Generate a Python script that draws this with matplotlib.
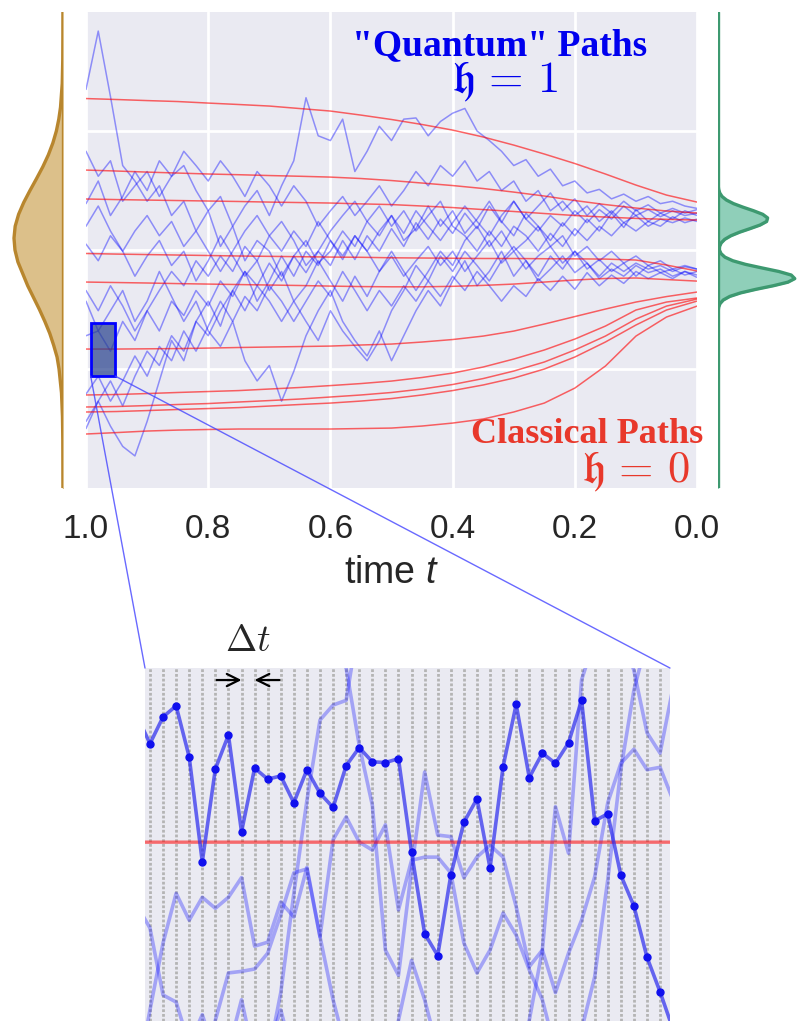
import numpy as np
import matplotlib.pyplot as plt
import seaborn as sns
from matplotlib.patches import Rectangle, ConnectionPatch

sns.set_theme(style='darkgrid')
plt.rcParams['font.family'] = ['Liberation Sans', 'DejaVu Sans']
plt.rcParams['mathtext.fontset'] = 'custom'
plt.rcParams['mathtext.it'] = 'Liberation Sans:italic'
plt.rcParams['mathtext.rm'] = 'Liberation Sans'

# time grids (t runs backwards from 1 to 0)
t_quantum = np.linspace(1.0, 0.0, 51)
t_classical = np.linspace(1.0, 0.0, 21)

# "quantum" paths, every dt=0.02
quantum_paths = [
    [1.35, 1.84, 1.29, 0.71, 0.58, 0.41, 0.54, 0.29, 0.41, 0.16, 0.33, 0.03, 0.20, -0.09, 0.08, -0.01, -0.22,
     -0.05, 0.08, -0.11, -0.01, 0.16, 0.03, 0.24, 0.12, 0.29, 0.08, 0.18, 0.37, 0.20, 0.33, 0.14, 0.26, 0.41,
     0.24, 0.12, 0.31, 0.20, 0.08, 0.23, 0.12, 0.26, 0.16, 0.31, 0.19, 0.34, 0.24, 0.31, 0.26, 0.33, 0.29],
    [0.83, 0.62, 0.75, 0.41, 0.54, 0.66, 0.45, 0.62, 0.71, 0.50, 0.33, 0.45, 0.20, 0.37, 0.50, 0.29, 0.54,
     0.75, 1.28, 0.96, 0.92, 1.10, 0.66, 0.83, 1.04, 0.92, 1.10, 1.11, 0.96, 1.08, 1.15, 1.19, 1.00, 0.92,
     0.83, 0.71, 0.76, 0.62, 0.68, 0.54, 0.58, 0.48, 0.51, 0.43, 0.47, 0.41, 0.45, 0.39, 0.41, 0.37, 0.35],
    [-1.44, -1.27, -1.48, -1.65, -1.73, -1.44, -1.10, -0.76, -0.93, -0.60, -0.43, -0.64, -0.34, -0.18, -0.43,
     -0.26, -0.05, -0.22, -0.01, -0.13, 0.08, -0.08, 0.12, -0.01, -0.18, -0.05, -0.22, -0.09, 0.03, -0.13,
     -0.01, -0.18, -0.05, 0.08, -0.11, -0.01, -0.16, -0.05, 0.03, -0.11, -0.01, -0.16, -0.08, -0.18, -0.11,
     -0.22, -0.13, -0.19, -0.16, -0.21, -0.18],
    [-0.43, -0.68, -0.51, -0.34, -0.60, -0.43, -0.18, -0.39, -0.60, -0.43, -0.68, -0.81, -0.60, -0.93, -1.10,
     -0.97, -1.27, -1.02, -0.72, -0.51, -0.34, -0.60, -0.76, -0.89, -0.68, -0.93, -0.72, -0.51, -0.34, -0.47,
     -0.26, -0.09, -0.30, -0.18, -0.01, -0.22, -0.09, -0.26, -0.16, -0.05, -0.19, -0.11, -0.24, -0.16, -0.22,
     -0.13, -0.19, -0.16, -0.22, -0.18, -0.21],
    [0.39, 0.58, 0.29, 0.45, 0.66, 0.50, 0.75, 0.62, 0.83, 0.71, 0.58, 0.75, 0.62, 0.45, 0.66, 0.54, 0.37,
     0.54, 0.41, 0.20, 0.33, 0.45, 0.29, 0.41, 0.54, 0.37, 0.50, 0.66, 0.54, 0.71, 0.62, 0.75, 0.58, 0.66,
     0.50, 0.58, 0.41, 0.50, 0.33, 0.41, 0.29, 0.37, 0.24, 0.33, 0.23, 0.29, 0.20, 0.26, 0.23, 0.27, 0.24],
    [0.05, -0.09, 0.12, -0.01, -0.22, -0.05, 0.08, -0.13, -0.01, -0.26, -0.09, 0.12, -0.05, -0.22, -0.09,
     -0.34, -0.18, -0.43, -0.30, -0.09, -0.26, -0.43, -0.22, -0.39, -0.18, -0.01, -0.18, -0.34, -0.18, -0.01,
     -0.13, 0.08, 0.20, 0.03, 0.16, -0.01, 0.08, 0.20, 0.03, 0.12, -0.05, 0.03, -0.09, -0.01, -0.11, -0.05,
     -0.13, -0.09, -0.16, -0.13, -0.16],
    [-0.34, -0.51, -0.30, -0.47, -0.68, -0.51, -0.34, -0.18, -0.30, -0.09, -0.22, -0.05, -0.18, 0.03, -0.09,
     0.12, -0.01, 0.16, 0.03, 0.24, 0.08, -0.05, 0.12, -0.01, 0.16, 0.29, 0.14, 0.33, 0.20, 0.08, 0.23, 0.37,
     0.24, 0.12, 0.29, 0.41, 0.26, 0.37, 0.48, 0.33, 0.43, 0.29, 0.39, 0.31, 0.41, 0.33, 0.38, 0.31, 0.35,
     0.31, 0.34],
    [-0.72, -0.68, -0.85, -0.60, -0.76, -0.51, -0.68, -0.43, -0.55, -0.34, -0.47, -0.26, -0.39, -0.18, -0.30,
     -0.11, -0.26, -0.05, -0.19, -0.01, -0.13, 0.08, -0.08, 0.12, -0.01, 0.18, 0.03, 0.23, 0.09, 0.26, 0.14,
     0.31, 0.18, 0.37, 0.23, 0.41, 0.26, 0.16, 0.29, 0.20, 0.33, 0.23, 0.34, 0.26, 0.37, 0.29, 0.34, 0.28,
     0.33, 0.29, 0.31],
    [-1.21, -1.06, -1.27, -1.10, -0.89, -1.06, -0.81, -0.93, -0.68, -0.85, -0.64, -0.43, -0.60, -0.39, -0.51,
     -0.30, -0.43, -0.60, -0.43, -0.26, -0.39, -0.18, -0.34, -0.51, -0.34, -0.47, -0.30, -0.43, -0.26, -0.39,
     -0.22, -0.34, -0.18, -0.30, -0.43, -0.30, -0.39, -0.24, -0.34, -0.22, -0.33, -0.19, -0.30, -0.21, -0.28,
     -0.18, -0.24, -0.19, -0.24, -0.18, -0.23],
    [-1.50, -1.27, -1.10, -1.31, -1.06, -0.85, -0.97, -0.72, -0.85, -0.60, -0.72, -0.51, -0.34, -0.51, -0.30,
     -0.43, -0.60, -0.43, -0.60, -0.76, -0.51, -0.68, -0.81, -0.93, -0.76, -0.51, -0.34, -0.13, -0.26, -0.05,
     -0.18, -0.01, -0.13, -0.26, -0.09, 0.03, -0.09, -0.22, -0.05, -0.16, -0.01, -0.11, -0.22, -0.11, -0.18,
     -0.11, -0.16, -0.13, -0.18, -0.14, -0.16],
    [0.20, 0.37, 0.16, -0.01, 0.16, 0.29, 0.12, 0.24, 0.03, 0.16, -0.01, -0.18, -0.01, 0.16, 0.29, 0.12, 0.24,
     0.08, -0.13, -0.01, 0.16, 0.29, 0.41, 0.24, 0.37, 0.20, 0.33, 0.16, 0.29, 0.41, 0.20, 0.12, -0.01, 0.16,
     0.03, 0.20, 0.12, -0.01, 0.14, 0.03, 0.18, 0.08, 0.20, 0.12, 0.23, 0.16, 0.24, 0.20, 0.28, 0.23, 0.26],
]

# classical paths, read every dt=0.05
classical_paths = [
    [1.273, 1.265, 1.256, 1.248, 1.235, 1.223, 1.210, 1.189, 1.168, 1.134, 1.097, 1.055, 1.008, 0.950, 0.882,
     0.807, 0.727, 0.639, 0.546, 0.462, 0.403],
    [0.672, 0.664, 0.655, 0.647, 0.639, 0.633, 0.626, 0.620, 0.613, 0.601, 0.584, 0.563, 0.542, 0.517, 0.487,
     0.454, 0.416, 0.382, 0.353, 0.328, 0.311],
    [0.429, 0.424, 0.420, 0.416, 0.412, 0.408, 0.403, 0.399, 0.395, 0.388, 0.382, 0.370, 0.357, 0.340, 0.324,
     0.307, 0.290, 0.277, 0.266, 0.258, 0.252],
    [-0.029, -0.034, -0.038, -0.042, -0.046, -0.050, -0.053, -0.056, -0.059, -0.061, -0.065, -0.067, -0.069,
     -0.071, -0.071, -0.073, -0.074, -0.076, -0.084, -0.126, -0.176],
    [-0.269, -0.273, -0.277, -0.282, -0.286, -0.290, -0.294, -0.298, -0.303, -0.307, -0.309, -0.309, -0.305,
     -0.297, -0.286, -0.269, -0.252, -0.239, -0.235, -0.248, -0.261],
    [-0.832, -0.832, -0.830, -0.828, -0.824, -0.819, -0.815, -0.811, -0.807, -0.798, -0.790, -0.773, -0.752,
     -0.723, -0.681, -0.622, -0.559, -0.496, -0.437, -0.391, -0.353],
    [-1.218, -1.214, -1.206, -1.197, -1.189, -1.181, -1.168, -1.155, -1.139, -1.122, -1.101, -1.071, -1.034,
     -0.983, -0.916, -0.840, -0.748, -0.639, -0.504, -0.437, -0.403],
    [-1.319, -1.315, -1.307, -1.298, -1.290, -1.277, -1.265, -1.252, -1.235, -1.218, -1.197, -1.168, -1.130,
     -1.080, -1.017, -0.941, -0.840, -0.723, -0.580, -0.471, -0.412],
    [-1.361, -1.357, -1.349, -1.340, -1.332, -1.324, -1.311, -1.298, -1.286, -1.269, -1.248, -1.218, -1.181,
     -1.134, -1.076, -1.000, -0.899, -0.773, -0.630, -0.504, -0.429],
    [-1.546, -1.534, -1.521, -1.513, -1.508, -1.504, -1.504, -1.504, -1.504, -1.500, -1.496, -1.479, -1.454,
     -1.420, -1.361, -1.286, -1.160, -0.975, -0.723, -0.563, -0.471],
]

# starting distribution (left) and final distribution (right)
left_y = [-2.0, -1.8, -1.6, -1.4, -1.2, -1.0, -0.9, -0.8, -0.7, -0.6, -0.5, -0.4, -0.3, -0.2, -0.1, 0.0,
          0.1, 0.2, 0.3, 0.4, 0.5, 0.6, 0.7, 0.8, 0.9, 1.0, 1.1, 1.2, 1.4, 1.6, 1.8, 2.0]
left_density = [0.0, 0.001, 0.003, 0.01, 0.03, 0.08, 0.12, 0.19, 0.27, 0.37, 0.48, 0.60, 0.72, 0.82, 0.92,
                0.98, 1.0, 0.976, 0.906, 0.801, 0.674, 0.540, 0.411, 0.298, 0.206, 0.135, 0.085, 0.050,
                0.015, 0.004, 0.001, 0.0]
right_y = [-2.0, -0.60, -0.57, -0.54, -0.51, -0.48, -0.45, -0.42, -0.39, -0.36, -0.33, -0.30, -0.27, -0.24,
           -0.21, -0.18, -0.15, -0.12, -0.09, -0.06, -0.03, 0.00, 0.03, 0.06, 0.09, 0.12, 0.15, 0.18, 0.21,
           0.24, 0.27, 0.30, 0.33, 0.36, 0.39, 0.42, 0.45, 0.48, 0.51, 0.54, 0.57, 0.60, 2.0]
right_density = [0.0, 0.0, 0.0, 0.001, 0.003, 0.009, 0.027, 0.069, 0.153, 0.295, 0.494, 0.719, 0.909, 0.998,
                 0.952, 0.790, 0.569, 0.356, 0.193, 0.091, 0.040, 0.019, 0.021, 0.042, 0.088, 0.168, 0.281,
                 0.417, 0.547, 0.632, 0.645, 0.582, 0.463, 0.326, 0.202, 0.111, 0.053, 0.023, 0.009, 0.003,
                 0.001, 0.0, 0.0]

# zoom window: time steps dt=0.001
dt = 0.001
zoom_steps = np.arange(-1, 41)
zoom_t = 0.992 - dt * zoom_steps
zoom_t_left, zoom_t_right = 0.99238, 0.95224
zoom_y_top, zoom_y_bottom = -0.611, -1.059

zoom_main_path = [-0.671, -0.707, -0.673, -0.659, -0.724, -0.857, -0.739, -0.696, -0.819, -0.738, -0.752,
                  -0.748, -0.782, -0.740, -0.770, -0.788, -0.735, -0.712, -0.730, -0.731, -0.726, -0.845,
                  -0.948, -0.976, -0.874, -0.807, -0.777, -0.865, -0.736, -0.657, -0.750, -0.719, -0.732,
                  -0.706, -0.652, -0.805, -0.796, -0.874, -0.913, -0.978, -1.022, -1.070]
zoom_other_paths = [
    [-0.912, -0.941, -1.026, -1.035, -1.089, -1.051, -1.102, -1.096, -1.032, -1.108, -1.096, -1.045, -1.108,
     -1.121, -1.134, -1.147, -1.140, -1.134, -1.147, -1.140, -1.134, -1.147, -1.140, -1.134, -1.147, -1.140,
     -1.134, -1.147, -1.140, -1.134, -1.147, -1.140, -1.127, -1.108, -1.070, -1.003, -0.880, -0.740, -0.639,
     -0.575, -0.537, -0.525],
    [-1.134, -1.045, -0.960, -0.897, -0.931, -0.902, -0.916, -0.902, -0.877, -0.964, -0.959, -0.908, -0.927,
     -0.864, -0.952, -0.829, -0.800, -0.832, -0.842, -0.810, -0.918, -0.855, -0.851, -0.851, -0.871, -0.960,
     -0.998, -0.969, -0.922, -0.950, -0.994, -1.032, -1.096, -1.134, -1.147, -1.140, -1.147, -1.134, -1.147,
     -1.140, -1.147, -1.134],
    [-1.147, -1.140, -1.127, -1.147, -1.134, -1.140, -1.058, -0.998, -0.996, -0.993, -0.973, -0.924, -0.871,
     -0.866, -0.952, -1.032, -1.096, -1.140, -1.147, -1.134, -1.058, -0.982, -1.032, -1.096, -1.140, -1.147,
     -1.134, -1.140, -1.147, -1.134, -1.140, -1.147, -1.134, -1.140, -1.147, -1.134, -1.140, -1.147, -1.134,
     -1.140, -1.147, -1.134],
    [-1.147, -1.140, -1.134, -1.147, -1.140, -1.134, -1.147, -1.140, -1.134, -1.147, -1.108, -1.023, -0.897,
     -0.779, -0.677, -0.658, -0.652, -0.550, -0.525, -0.537, -0.525, -0.550, -0.525, -0.537, -0.525, -0.550,
     -0.525, -0.537, -0.525, -0.550, -0.525, -0.537, -0.525, -0.550, -0.525, -0.537, -0.525, -0.563, -0.614,
     -0.693, -0.719, -0.635],
    [-0.525, -0.537, -0.525, -0.550, -0.525, -0.537, -0.525, -0.550, -0.525, -0.537, -0.525, -0.550, -0.525,
     -0.537, -0.525, -0.525, -0.611, -0.709, -0.785, -0.969, -1.001, -0.867, -0.743, -0.823, -0.825, -0.877,
     -0.851, -0.836, -0.851, -0.914, -0.990, -0.969, -1.023, -0.973, -0.931, -0.876, -0.782, -0.732, -0.714,
     -0.740, -0.737, -0.779],
    [-1.134, -1.147, -1.140, -1.134, -1.147, -1.140, -1.134, -1.147, -1.140, -1.134, -1.147, -1.140, -1.134,
     -1.147, -1.140, -1.134, -1.147, -1.140, -1.134, -1.147, -1.140, -1.134, -1.147, -1.140, -1.134, -1.147,
     -1.140, -1.134, -1.147, -1.108, -1.058, -0.969, -0.787, -0.846, -0.626, -0.575, -0.550, -0.525, -0.537,
     -0.525, -0.550, -0.525],
]

BLUE = '#0000ee'
RED = '#e8382b'
BG = '#eaeaf2'

fig = plt.figure(figsize=(7.98, 10.21), dpi=100)

# main panel
ax = fig.add_axes([0.1078, 0.5220, 0.7657, 0.4662])
ax.set_facecolor(BG)
for p in quantum_paths:
    ax.plot(t_quantum, p, color='blue', alpha=0.4, lw=1.1)
for p in classical_paths:
    ax.plot(t_classical, p, color='red', alpha=0.6, lw=1.1)
ax.set_xlim(1.0, 0.0)
ax.set_ylim(-2, 2)
ax.set_xticks([1.0, 0.8, 0.6, 0.4, 0.2, 0.0])
ax.set_xticklabels(['1.0', '0.8', '0.6', '0.4', '0.2', '0.0'], fontsize=24, color='#262626')
ax.set_yticks([-1, 0, 1])
ax.set_yticklabels([])
ax.tick_params(length=0, pad=19)
ax.grid(True, color='white', lw=2)
for s in ax.spines.values():
    s.set_visible(False)
ax.set_xlabel('time $t$', fontsize=27, color='#262626', labelpad=7, math_fontfamily='custom')

ax.text(0.676, 0.910, '"Quantum" Paths', transform=ax.transAxes, ha='center', va='baseline',
        fontsize=27, fontweight='bold', family='Liberation Serif', color=BLUE)
ax.text(0.686, 0.830, r'$\mathfrak{h} \,=\, 1$', transform=ax.transAxes, ha='center', va='baseline',
        fontsize=32, color=BLUE, math_fontfamily='cm')
ax.text(1.010, 0.094, 'Classical Paths', transform=ax.transAxes, ha='right', va='baseline',
        fontsize=26, fontweight='bold', family='Liberation Serif', color=RED)
ax.text(0.989, 0.011, r'$\mathfrak{h} \,=\, 0$', transform=ax.transAxes, ha='right', va='baseline',
        fontsize=32, color=RED, math_fontfamily='cm')

ax.add_patch(Rectangle((zoom_t_right, zoom_y_bottom), zoom_t_left - zoom_t_right, zoom_y_top - zoom_y_bottom,
                       facecolor=(0.15, 0.25, 0.55, 0.7), edgecolor='blue', lw=2, zorder=5))

# marginal densities
axl = fig.add_axes([0.0125, 0.5220, 0.0664, 0.4662])
axl.fill_betweenx(left_y, 0, left_density, color='#dcc08a')
axl.plot(left_density, left_y, color='#b8862e', lw=2.4)
axl.axvline(0, color='#b8862e', lw=2.4)
axl.set_xlim(1.082, 0)
axl.set_ylim(-2, 2)
axl.axis('off')

axr = fig.add_axes([0.8997, 0.5220, 0.1003, 0.4662])
axr.fill_betweenx(right_y, 0, right_density, color='#8fcfb9')
axr.plot(right_density, right_y, color='#3d9970', lw=2.4)
axr.axvline(0, color='#3d9970', lw=2.4)
axr.set_xlim(0, 1.04)
axr.set_ylim(-2, 2)
axr.axis('off')

# zoomed window
axins = fig.add_axes([0.1817, 0.0, 0.6579, 0.3457])
axins.set_facecolor(BG)
axins.grid(False)
for t in zoom_t:
    axins.axvline(t, color='#b4b4b4', lw=2.0, ls=(0, (1.0, 0.7)), zorder=0)
for p in zoom_other_paths:
    axins.plot(zoom_t, p, color='blue', alpha=0.3, lw=2.6)
axins.plot(t_classical, classical_paths[5], color='red', alpha=0.55, lw=2.4)
axins.plot(zoom_t, zoom_main_path, color='#2a2aee', alpha=0.7, lw=2.6)
axins.plot(zoom_t, zoom_main_path, ls='none', marker='o', ms=5, color='#1010ee')
axins.set_xlim(zoom_t_left, zoom_t_right)
axins.set_ylim(zoom_y_bottom, zoom_y_top)
axins.set_xticks([])
axins.set_yticks([])
for s in axins.spines.values():
    s.set_visible(False)

# delta t arrows
t7, t8 = zoom_t[8], zoom_t[9]
for tip, sign in [(t7, 1), (t8, -1)]:
    axins.annotate('', xy=(tip, 0.966), xytext=(tip + sign * 1.9 * dt, 0.966),
                   xycoords=('data', 'axes fraction'),
                   arrowprops=dict(arrowstyle='->', color='black', lw=1.6, shrinkA=0, shrinkB=0,
                                   mutation_scale=22))
axins.text((t7 + t8) / 2, 1.026, r'$\Delta t$', transform=axins.get_xaxis_transform(), ha='center',
           va='bottom', fontsize=27, math_fontfamily='cm', clip_on=False)

# connectors
for xa, xb in [(zoom_t_left, 0), (zoom_t_right, 1)]:
    con = ConnectionPatch(xyA=(xa, zoom_y_bottom), coordsA=ax.transData, xyB=(xb, 1), coordsB=axins.transAxes,
                          color='#4444ff', lw=1.0, alpha=0.8)
    fig.add_artist(con)

fig.savefig('out.png', dpi=100)
